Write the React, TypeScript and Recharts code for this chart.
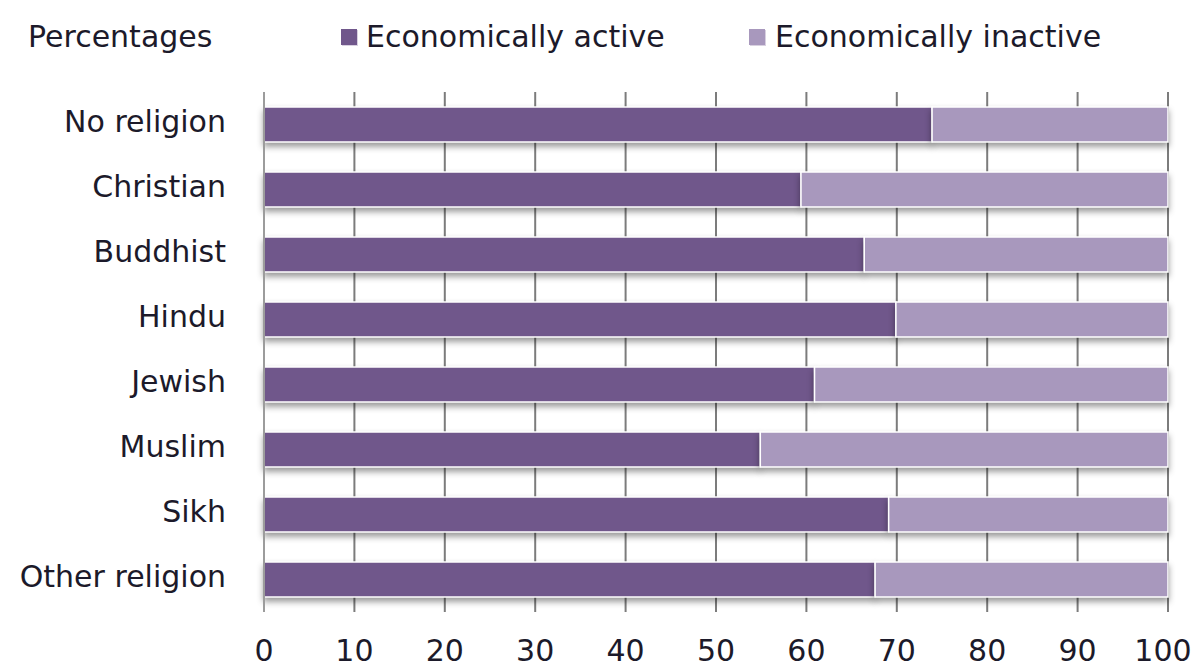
import { BarChart, Bar, XAxis, YAxis, CartesianGrid } from 'recharts';

const religions = [
  'No religion',
  'Christian',
  'Buddhist',
  'Hindu',
  'Jewish',
  'Muslim',
  'Sikh',
  'Other religion',
];

const activeShare = [73.9, 59.4, 66.4, 69.9, 60.9, 54.9, 69.1, 67.6];

const xTicks = [0, 10, 20, 30, 40, 50, 60, 70, 80, 90, 100];

const ACTIVE = '#70578b';
const INACTIVE = '#a898bd';
const TEXT = '#1c1a2a';
const FONT = "'DejaVu Sans', Verdana, sans-serif";

const data = religions.map((name, i) => ({
  name,
  active: activeShare[i],
  inactive: +(100 - activeShare[i]).toFixed(1),
}));

function Header() {
  const text = { position: 'absolute' as const, top: 20, fontSize: 30, lineHeight: '34px', color: TEXT };
  const box = (c: string) => ({
    position: 'absolute' as const,
    top: 29,
    width: 16,
    height: 16,
    background: c,
    boxShadow: '1px 1px 0 #d8d0e0',
  });
  return (
    <>
      <span style={{ ...text, left: 28 }}>Percentages</span>
      <span style={{ ...box(ACTIVE), left: 341 }} />
      <span style={{ ...text, left: 366 }}>Economically active</span>
      <span style={{ ...box(INACTIVE), left: 749 }} />
      <span style={{ ...text, left: 775 }}>Economically inactive</span>
    </>
  );
}

// the last label sits against the right edge, nudge it in a bit
function XTick(props: any) {
  const { x, y, payload } = props;
  const last = payload.value === xTicks[xTicks.length - 1];
  return (
    <text
      x={x}
      y={y}
      dx={last ? -5 : 0}
      dy='0.71em'
      textAnchor='middle'
      fontSize={30}
      fill={TEXT}
      fontFamily={FONT}
    >
      {payload.value}
    </text>
  );
}

export default function App() {
  return (
    <div
      style={{
        position: 'absolute',
        left: 0,
        top: 0,
        width: 1195,
        height: 669,
        background: '#fff',
        fontFamily: FONT,
      }}
    >
      <style>{`.recharts-bar-rectangle { filter: drop-shadow(0px 4px 3px rgba(0,0,0,0.4)); }`}</style>
      <Header />
      <BarChart
        layout='vertical'
        width={1195}
        height={669}
        data={data}
        margin={{ top: 92, right: 27, bottom: 0, left: 0 }}
        barSize={35}
      >
        <CartesianGrid horizontal={false} stroke='#7c7c7c' strokeWidth={2} />
        <XAxis
          type='number'
          domain={[0, 100]}
          ticks={xTicks}
          interval={0}
          axisLine={false}
          tickLine={false}
          tickSize={0}
          tickMargin={28}
          height={57}
          tick={<XTick />}
        />
        <YAxis
          type='category'
          dataKey='name'
          width={264}
          axisLine={{ stroke: '#9c9c9c', strokeWidth: 2 }}
          tickLine={false}
          tickSize={0}
          tickMargin={38}
          interval={0}
          tick={{ fontSize: 30, fill: TEXT, fontFamily: FONT, dy: -3 }}
        />
        <Bar
          dataKey='active'
          stackId='a'
          fill={ACTIVE}
          stroke='#fff'
          strokeWidth={1.5}
          isAnimationActive={false}
        />
        <Bar
          dataKey='inactive'
          stackId='a'
          fill={INACTIVE}
          stroke='#fff'
          strokeWidth={1.5}
          isAnimationActive={false}
        />
      </BarChart>
    </div>
  );
}
